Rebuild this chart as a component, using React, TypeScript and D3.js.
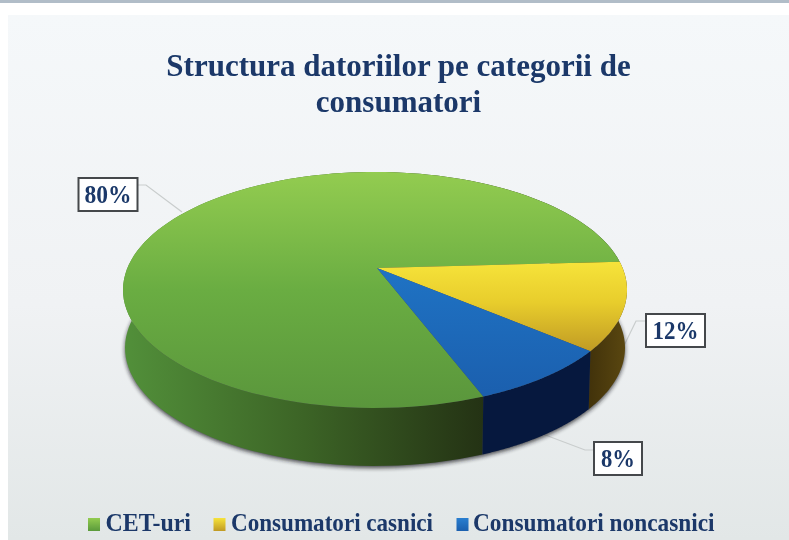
import React from "react";
import * as d3 from "d3";

const categories = ["CET-uri", "Consumatori casnici", "Consumatori noncasnici"];
const shares = [80, 12, 8];
const titleLines = ["Structura datoriilor pe categorii de", "consumatori"];

const W = 789, H = 540;
const apex = { x: 377, y: 268 };
const cx = 375;
const k = -0.186, a = 113.9, d = 247.6;
const depth = 58, shrink = 0.992;
const navy = "#1a3869";

// angle (d3 pie convention, 0 = north, clockwise) -> tilted screen position
const project = (t: number, wall = false) => {
  const u = Math.sin(t), v = -Math.cos(t);
  const den = 1 + k * v;
  const x = (d * u) / den, y = (a * v) / den;
  return wall
    ? ([cx + x * shrink, apex.y + y + depth] as [number, number])
    : ([cx + x, apex.y + y] as [number, number]);
};

const pie = d3.pie<number>().sort(null).startAngle((158.8 * Math.PI) / 180).endAngle(((158.8 + 360) * Math.PI) / 180);
const arcs = pie(shares);
const line = d3.line();
const rim = (from: number, to: number, wall = false) =>
  d3.range(0, 121).map((i) => project(from + ((to - from) * i) / 120, wall));

const topPath = (s: any) =>
  line([[apex.x, apex.y], ...rim(s.startAngle, s.endAngle)])! + "Z";
const wallPath = (s: any) =>
  line([...rim(s.startAngle, s.endAngle), ...rim(s.startAngle, s.endAngle, true).reverse()])! + "Z";
const basePath = line(rim(0, 2 * Math.PI, true))! + "Z";

const topFills = ["url(#gTop)", "url(#yTop)", "url(#bTop)"];
const wallFills = ["url(#gWall)", "url(#yWall)", "#06183e"];
const swatchFills = ["url(#gSw)", "url(#ySw)", "url(#bSw)"];

const labels = [
  { i: 0, x: 78.5, y: 178, w: 59, h: 33, tw: 47, leader: [[138, 185], [146, 185], [182, 212]] },
  { i: 1, x: 646, y: 314, w: 59, h: 33, tw: 46, leader: [[646, 321], [636, 321], [617, 360]] },
  { i: 2, x: 594, y: 442, w: 48, h: 33, tw: 34, leader: [[594, 450], [585, 450], [540, 433]] },
];
const legend = [
  { sx: 88, tx: 105.5, tw: 85.5 },
  { sx: 213.5, tx: 231, tw: 202 },
  { sx: 456.5, tx: 473, tw: 241.5 },
];
const serif = "'Liberation Serif', serif";

export default function App() {
  return (
    <svg width={W} height={H} viewBox={`0 0 ${W} ${H}`} style={{ position: "absolute", left: 0, top: 0, background: "#fff" }}>
      <defs>
        <linearGradient id="bg" x1="0" y1="0" x2="0" y2="1">
          <stop offset="0" stopColor="#f5f8fa" />
          <stop offset="0.55" stopColor="#f0f2f4" />
          <stop offset="1" stopColor="#e2e7e7" />
        </linearGradient>
        <linearGradient id="gTop" gradientUnits="userSpaceOnUse" x1="0" y1="172" x2="0" y2="408">
          <stop offset="0" stopColor="#93cc50" />
          <stop offset="0.5" stopColor="#6aad42" />
          <stop offset="1" stopColor="#5a963c" />
        </linearGradient>
        <linearGradient id="yTop" gradientUnits="userSpaceOnUse" x1="0" y1="262" x2="0" y2="352">
          <stop offset="0" stopColor="#f6e33a" />
          <stop offset="0.45" stopColor="#e8cd2c" />
          <stop offset="1" stopColor="#c09a24" />
        </linearGradient>
        <linearGradient id="bTop" gradientUnits="userSpaceOnUse" x1="0" y1="268" x2="0" y2="396">
          <stop offset="0" stopColor="#1f73c4" />
          <stop offset="1" stopColor="#1b5fae" />
        </linearGradient>
        <linearGradient id="gWall" gradientUnits="userSpaceOnUse" x1="123" y1="0" x2="484" y2="0">
          <stop offset="0" stopColor="#52903a" />
          <stop offset="0.5" stopColor="#3c6426" />
          <stop offset="1" stopColor="#243214" />
        </linearGradient>
        <linearGradient id="yWall" gradientUnits="userSpaceOnUse" x1="585" y1="0" x2="626" y2="0">
          <stop offset="0" stopColor="#3f300a" />
          <stop offset="1" stopColor="#5a4710" />
        </linearGradient>
        <linearGradient id="gSw" x1="0" y1="0" x2="0" y2="1"><stop offset="0" stopColor="#93cc50" /><stop offset="1" stopColor="#5a9a3b" /></linearGradient>
        <linearGradient id="ySw" x1="0" y1="0" x2="0" y2="1"><stop offset="0" stopColor="#f6e33a" /><stop offset="1" stopColor="#c09a24" /></linearGradient>
        <linearGradient id="bSw" x1="0" y1="0" x2="0" y2="1"><stop offset="0" stopColor="#2a7fd0" /><stop offset="1" stopColor="#1b5fae" /></linearGradient>
        <filter id="shadow" x="-10%" y="-10%" width="120%" height="130%"><feGaussianBlur stdDeviation="2.2" /></filter>
        <filter id="soft" x="-5%" y="-20%" width="110%" height="140%"><feGaussianBlur stdDeviation="0.45" /></filter>
      </defs>

      <rect x={0} y={0} width={W} height={3} fill="#b1bdc8" />
      <rect x={8} y={15} width={W - 8} height={H - 15} fill="url(#bg)" />

      <g filter="url(#soft)" fill={navy} fontFamily={serif} fontWeight="bold">
        {titleLines.map((t, i) => (
          <text key={t} x={398.5} y={76 + i * 35.5} textAnchor="middle" fontSize={31}>{t}</text>
        ))}
      </g>

      {labels.map((l) => (
        <polyline key={l.i} points={l.leader.join(" ")} fill="none" stroke="#c9cdcd" strokeWidth={1.2} />
      ))}

      <path d={basePath} fill="#1c1c20" opacity={0.8} filter="url(#shadow)" transform="translate(0,2)" />
      {shares.map((_, i) => (
        <path key={i} d={wallPath(arcs[i])} fill={wallFills[i]} />
      ))}
      {arcs.map((s, i) => (
        <path key={i} d={topPath(s)} fill={topFills[i]} />
      ))}

      {labels.map((l) => (
        <g key={l.i}>
          <rect x={l.x} y={l.y} width={l.w} height={l.h} fill="#fff" stroke="#45484b" strokeWidth={2} />
          <text x={l.x + l.w / 2} y={l.y + 25} textAnchor="middle" fontFamily={serif} fontWeight="bold" fontSize={25} fill={navy} textLength={l.tw} lengthAdjust="spacingAndGlyphs" filter="url(#soft)">
            {shares[l.i]}%
          </text>
        </g>
      ))}

      {legend.map((l, i) => (
        <g key={i}>
          <rect x={l.sx} y={518} width={12} height={13} fill={swatchFills[i]} />
          <text x={l.tx} y={531} fontFamily={serif} fontWeight="bold" fontSize={25} fill={navy} textLength={l.tw} lengthAdjust="spacingAndGlyphs" filter="url(#soft)">
            {categories[i]}
          </text>
        </g>
      ))}
    </svg>
  );
}
